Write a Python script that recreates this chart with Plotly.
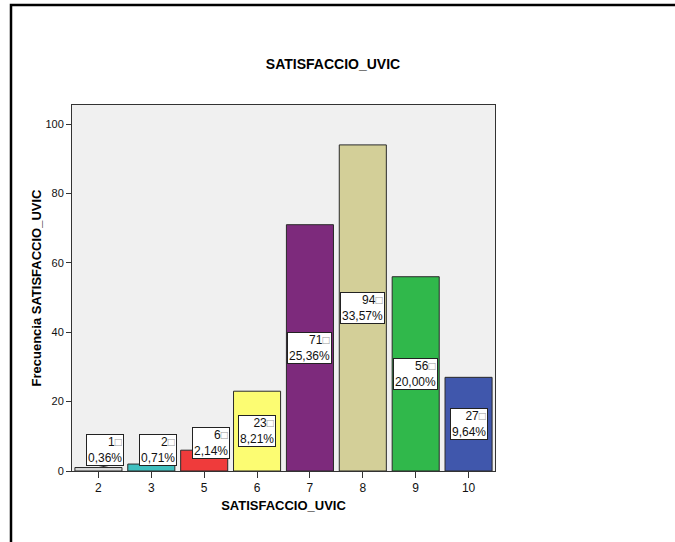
import plotly.graph_objects as go

categories = ["2", "3", "5", "6", "7", "8", "9", "10"]
counts = [1, 2, 6, 23, 71, 94, 56, 27]
percents = ["0,36%", "0,71%", "2,14%", "8,21%", "25,36%", "33,57%", "20,00%", "9,64%"]
colors = ["#d8d8d8", "#3fbfbf", "#ef3b3b", "#fcfc72", "#7d2a7c", "#d3cf98", "#30b84b", "#4057ac"]
y_ticks = [0, 20, 40, 60, 80, 100]

FONT = "Arial, Liberation Sans, sans-serif"

W, H = 675, 542
PL, PR, PT, PB = 72, 495, 105, 471  # plot area in pixels
ML, MR, MT, MB = PL, W - PR, PT, H - PB
PW, PH = PR - PL, PB - PT

fig = go.Figure()
fig.add_trace(go.Bar(
    x=categories, y=counts,
    marker=dict(color=colors, line=dict(color="#2a2a2a", width=1)),
    hoverinfo="x+y",
))

for i, (v, p) in enumerate(zip(counts, percents)):
    inside = v / 2 >= 8.5
    ly = v / 2 if inside else max(v + 2, 6.0)
    fig.add_annotation(
        x=i, y=ly, showarrow=False, xshift=0 if inside else 7,
        text=f"{v}<span style='color:#999'>\u25a1</span><br>{p}",
        align="right",
        font=dict(family=FONT, size=12, color="#111"),
        bgcolor="white", bordercolor="#222", borderwidth=1, borderpad=1,
        height=28,
    )
    if (ly - v) >= 4.5:
        fig.add_shape(type="line", xref="x", yref="y",
                      x0=i, y0=v, x1=i + 0.2, y1=ly - 4.4,
                      line=dict(color="#333", width=1))

def px(xp):
    return (xp - PL) / PW

def py(yp):
    return (PB - yp) / PH

# outer frame
fig.add_shape(type="rect", xref="paper", yref="paper",
              x0=px(11), x1=px(720), y0=py(5), y1=py(600),
              line=dict(color="black", width=2.5), fillcolor="rgba(0,0,0,0)", layer="above")

fig.update_layout(
    width=W, height=H,
    margin=dict(l=ML, r=MR, t=MT, b=MB),
    paper_bgcolor="white", plot_bgcolor="#f0f0f0",
    bargap=0.11,
    showlegend=False,
    title=dict(text="<b>SATISFACCIO_UVIC</b>", x=px(333), xref="paper", xanchor="center",
               y=1 - 64 / H, yref="container", yanchor="middle",
               font=dict(family=FONT, size=14, color="black")),
    font=dict(family=FONT, color="#111"),
)
fig.update_xaxes(
    type="category", range=[-0.5, 7.5],
    showline=True, linecolor="#333", linewidth=1, mirror=True,
    ticks="outside", ticklen=6, tickcolor="#333",
    tickfont=dict(family=FONT, size=12, color="#111"),
    showgrid=False,
    title=dict(text="<b>SATISFACCIO_UVIC</b>", font=dict(family=FONT, size=13, color="black"), standoff=6),
)
fig.update_yaxes(
    range=[0, 105.5], tickvals=y_ticks,
    showline=True, linecolor="#333", linewidth=1, mirror=True,
    ticks="outside", ticklen=5, tickcolor="#333",
    tickfont=dict(family=FONT, size=11, color="#111"),
    showgrid=False, zeroline=False,
    title=dict(text="<b>Frecuencia SATISFACCIO_UVIC</b>", font=dict(family=FONT, size=13, color="black"), standoff=0),
)

fig.write_html("out.html", config={"displayModeBar": False},
               post_script="document.body.style.margin='0';")
